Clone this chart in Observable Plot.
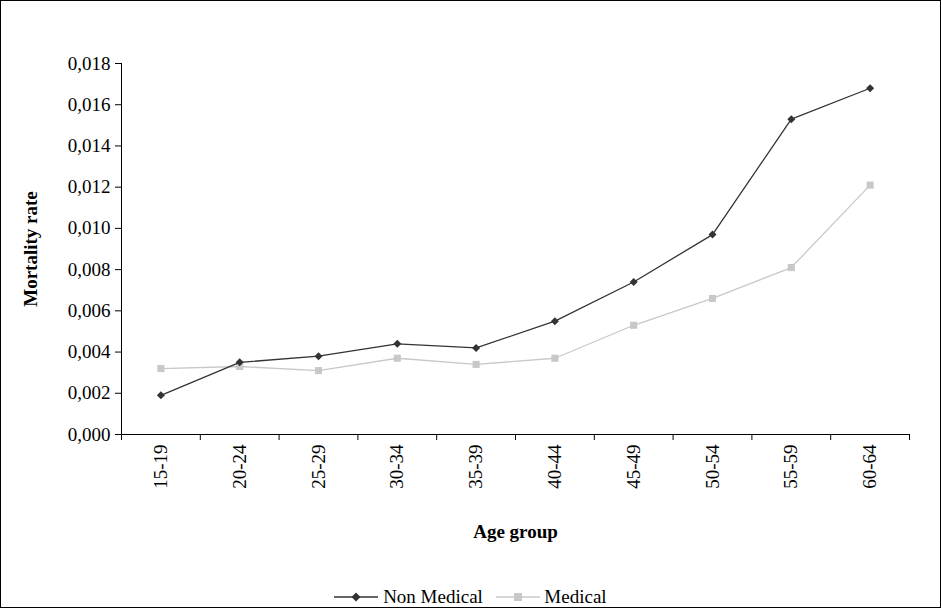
<!DOCTYPE html>
<html><head><meta charset="utf-8">
<script src="https://cdn.jsdelivr.net/npm/d3@7"></script>
<script src="https://cdn.jsdelivr.net/npm/@observablehq/plot@0.6"></script>
<style>
body{margin:0;font-family:"Liberation Serif",serif;}
#wrap{width:939px;height:606px;border:1px solid #000;position:relative;overflow:hidden;}
#legend{position:absolute;top:596px;left:0;width:939px;text-align:center;font-size:19px;transform:translateY(-50%);}
#legend span{display:inline-flex;align-items:center;margin:0 4px;}
#chart svg text{font-size:19px !important;}
svg [aria-label="x-axis label"] text, svg [aria-label="y-axis label"] text{font-weight:bold;}
</style></head><body>
<div id="wrap"><div id="chart"></div>
<div id="legend">
<span><svg width="44" height="12"><line x1="0" y1="6" x2="44" y2="6" stroke="#333" stroke-width="1.3"/><path d="M22,1.5 L26.5,6 L22,10.5 L17.5,6Z" fill="#333"/></svg>&nbsp;Non Medical</span>
<span><svg width="44" height="12"><line x1="0" y1="6" x2="44" y2="6" stroke="#c8c8c8" stroke-width="1.3"/><rect x="18" y="2" width="8" height="8" fill="#c8c8c8"/></svg>&nbsp;Medical</span>
</div></div>
<script>
const ageGroups = ["15-19","20-24","25-29","30-34","35-39","40-44","45-49","50-54","55-59","60-64"];
const nonMedical = [0.0019,0.0035,0.0038,0.0044,0.0042,0.0055,0.0074,0.0097,0.0153,0.0168];
const medical = [0.0032,0.0033,0.0031,0.0037,0.0034,0.0037,0.0053,0.0066,0.0081,0.0121];
const yTicks = d3.range(0, 0.0181, 0.002);

const idx = ageGroups.map((_, i) => i);
const bounds = d3.range(-0.5, ageGroups.length, 1);
const rows = [];
ageGroups.forEach((g, i) => {
  rows.push({i, v: nonMedical[i], s: "Non Medical"});
  rows.push({i, v: medical[i], s: "Medical"});
});
const nm = rows.filter(d => d.s === "Non Medical");
const md = rows.filter(d => d.s === "Medical");

const plot = Plot.plot({
  width: 939, height: 560,
  marginLeft: 120, marginRight: 31, marginTop: 62, marginBottom: 127,
  style: {fontFamily: "Liberation Serif, serif", fontSize: "19px", color: "#000", overflow: "visible"},
  x: {domain: [-0.5, ageGroups.length - 0.5]},
  y: {domain: [0, 0.018]},
  marks: [
    Plot.axisY({ticks: yTicks, tickSize: 6, tickPadding: 5, tickFormat: d => d3.format(".3f")(d).replace(".", ","),
      label: "Mortality rate", labelAnchor: "center", labelArrow: "none", labelOffset: 98}),
    Plot.axisX({ticks: idx, tickSize: 0, tickRotate: -90, tickPadding: 10,
      tickFormat: i => ageGroups[i], label: null}),
    Plot.axisX({ticks: bounds, tickSize: 6, tickFormat: () => "", label: "Age group",
      labelAnchor: "center", labelArrow: "none", labelOffset: 103}),
    Plot.ruleX([-0.5], {stroke: "#000"}),
    Plot.ruleY([0], {stroke: "#000"}),
    Plot.line(md, {x: "i", y: "v", stroke: "#c8c8c8", strokeWidth: 1.3}),
    Plot.dot(md, {x: "i", y: "v", symbol: "square", r: 4, fill: "#c8c8c8"}),
    Plot.line(nm, {x: "i", y: "v", stroke: "#333", strokeWidth: 1.3}),
    Plot.dot(nm, {x: "i", y: "v", symbol: "square", r: 3.2, rotate: 45, fill: "#333"})
  ]
});
document.getElementById("chart").appendChild(plot);
</script></body></html>
